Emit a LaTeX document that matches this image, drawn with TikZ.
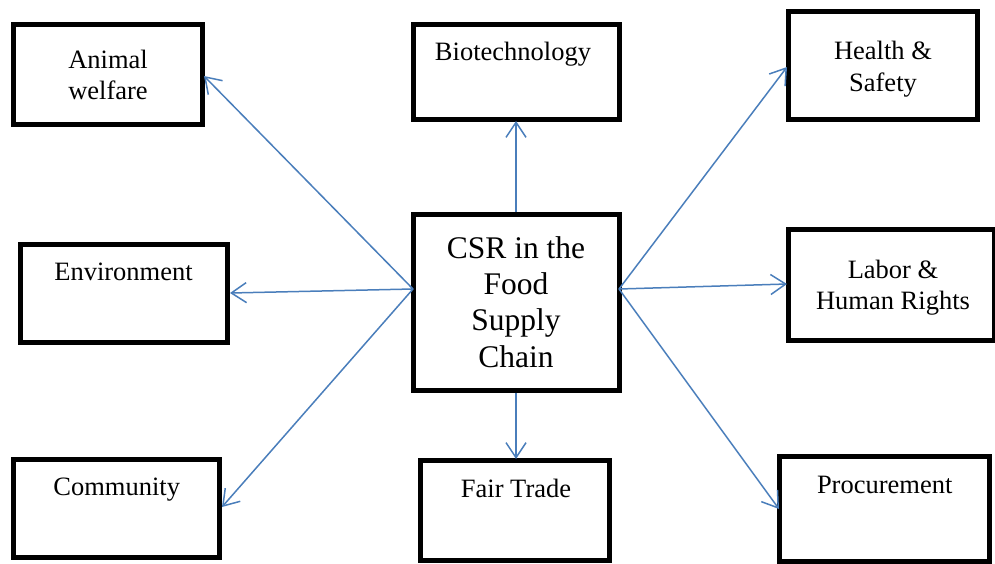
\documentclass[tikz,border=0pt]{standalone}
\usepackage{fontspec}
\setmainfont{Liberation Serif}
\usetikzlibrary{arrows.meta}
\definecolor{linkblue}{RGB}{74,126,187}
\begin{document}
\begin{tikzpicture}[x=1pt,y=-1pt,
  topic/.style={draw=black,line width=5pt,fill=white,inner sep=0pt},
  caption/.style={inner sep=0pt,anchor=base,align=center,
    font=\fontsize{26.5}{31}\selectfont},
  hubtext/.style={inner sep=0pt,anchor=base,align=center,
    font=\fontsize{31.5}{36.3}\selectfont},
  link/.style={draw=linkblue,line width=1.5pt,
    -{Straight Barb[length=15pt,width=20pt]}}]
\useasboundingbox (0,0) rectangle (995,563);

% frames
\node[topic,minimum width=189pt,minimum height=100pt] (animal) at (108,74.5) {};
\node[topic,minimum width=206pt,minimum height=95pt]  (biotech) at (516.5,72) {};
\node[topic,minimum width=189pt,minimum height=108pt] (health) at (883,65.5) {};
\node[topic,minimum width=207pt,minimum height=98pt]  (env) at (124,293.5) {};
\node[topic,minimum width=206pt,minimum height=176pt] (csr) at (516.5,302.5) {};
\node[topic,minimum width=206pt,minimum height=111pt] (labor) at (891.5,285) {};
\node[topic,minimum width=206pt,minimum height=98pt]  (community) at (116.5,508.5) {};
\node[topic,minimum width=189pt,minimum height=100pt] (fair) at (515,510.5) {};
\node[topic,minimum width=210pt,minimum height=105pt] (procure) at (884.5,509) {};

% labels
\node[caption] (tanimal1) at (108,68) {Animal};
\node[caption] (tanimal2) at (108,99) {welfare};
\node[caption] (tbiotech) at (513,60) {Biotechnology};
\node[caption] (thealth1) at (883,59) {Health \&};
\node[caption] (thealth2) at (883,91) {Safety};
\node[caption] (tenv) at (123.5,280) {Environment};
\node[hubtext] (tcsr1) at (516,258) {CSR in the};
\node[hubtext] (tcsr2) at (516,294) {Food};
\node[hubtext] (tcsr3) at (516,330) {Supply};
\node[hubtext] (tcsr4) at (516,367) {Chain};
\node[caption] (tlabor1) at (893,278) {Labor \&};
\node[caption] (tlabor2) at (893,309) {Human Rights};
\node[caption] (tcommunity) at (116.7,495) {Community};
\node[caption] (tfair) at (516,497) {Fair Trade};
\node[caption] (tprocure) at (884.7,493) {Procurement};

% hub points on the central frame
\coordinate (hubL) at (413,289);
\coordinate (hubR) at (619,289);
\coordinate (hubT) at (516,212);
\coordinate (hubB) at (516,393);
\coordinate (tipAnimal) at (204,76);
\coordinate (tipEnv) at (230,293);
\coordinate (tipCommunity) at (222,507);
\coordinate (tipBiotech) at (516,121);
\coordinate (tipFair) at (516,459);
\coordinate (tipHealth) at (787,67);
\coordinate (tipLabor) at (787,284);
\coordinate (tipProcure) at (779,509);

% connectors
\draw[link] (hubL) -- (tipAnimal);
\draw[link] (hubL) -- (tipEnv);
\draw[link] (hubL) -- (tipCommunity);
\draw[link] (hubT) -- (tipBiotech);
\draw[link] (hubB) -- (tipFair);
\draw[link] (hubR) -- (tipHealth);
\draw[link] (hubR) -- (tipLabor);
\draw[link] (hubR) -- (tipProcure);
\end{tikzpicture}
\end{document}
